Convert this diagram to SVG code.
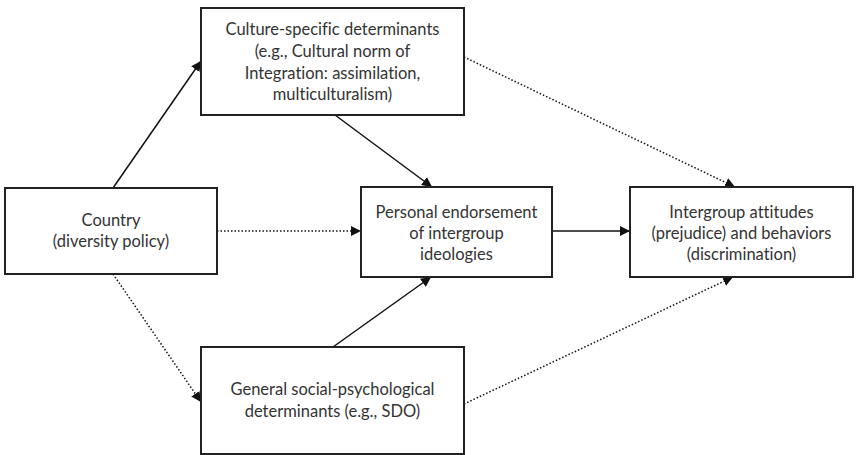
<svg xmlns="http://www.w3.org/2000/svg" width="866" height="455" viewBox="0 0 866 455">
<style>
.box{fill:#fff;stroke:#222;stroke-width:2}
.t{font-family:Lato,"Liberation Sans",sans-serif;font-size:16.5px;fill:#333;text-anchor:middle;font-variant-ligatures:none}
.s{fill:none;stroke:#111;stroke-width:1.5}
.d{fill:none;stroke:#111;stroke-width:1.5;stroke-dasharray:1.5 2}
</style>
<defs>
<marker id="ah" viewBox="0 0 10 10" refX="10" refY="5" markerWidth="10" markerHeight="10" markerUnits="userSpaceOnUse" orient="auto">
<path d="M0,0 L10,5 L0,10 z" fill="#111"/>
</marker>
</defs>
<rect width="866" height="455" fill="#fff"/>
<g id="connectors">
<line class="s" x1="113" y1="188" x2="201" y2="61" marker-end="url(#ah)"/>
<line class="d" x1="113" y1="274" x2="201" y2="402" marker-end="url(#ah)"/>
<line class="d" x1="217" y1="231" x2="361" y2="231" marker-end="url(#ah)"/>
<line class="s" x1="335" y1="115" x2="432" y2="187" marker-end="url(#ah)"/>
<line class="s" x1="333" y1="347" x2="431" y2="277" marker-end="url(#ah)"/>
<line class="s" x1="552" y1="231" x2="630" y2="231" marker-end="url(#ah)"/>
<line class="d" x1="464" y1="57" x2="735" y2="187" marker-end="url(#ah)"/>
<line class="d" x1="464" y1="404" x2="733" y2="277" marker-end="url(#ah)"/>
</g>
<g id="culture">
<rect class="box" x="201" y="8" width="263" height="107"/>
<text class="t" x="332.5" y="35">Culture-specific determinants</text>
<text class="t" x="332.5" y="57">(e.g., Cultural norm of</text>
<text class="t" x="332.5" y="79">Integration: assimilation,</text>
<text class="t" x="332.5" y="100">multiculturalism)</text>
</g>
<g id="country">
<rect class="box" x="5" y="188" width="212" height="86"/>
<text class="t" x="111" y="226">Country</text>
<text class="t" x="111" y="247">(diversity policy)</text>
</g>
<g id="personal">
<rect class="box" x="361" y="187" width="191" height="90"/>
<text class="t" x="456.5" y="218">Personal endorsement</text>
<text class="t" x="456.5" y="239">of intergroup</text>
<text class="t" x="456.5" y="260">ideologies</text>
</g>
<g id="intergroup">
<rect class="box" x="630" y="187" width="223" height="90"/>
<text class="t" x="741.5" y="218">Intergroup attitudes</text>
<text class="t" x="741.5" y="239">(prejudice) and behaviors</text>
<text class="t" x="741.5" y="260">(discrimination)</text>
</g>
<g id="general">
<rect class="box" x="201" y="347" width="263" height="107"/>
<text class="t" x="332.5" y="395">General social-psychological</text>
<text class="t" x="332.5" y="417">determinants (e.g., SDO)</text>
</g>
</svg>
